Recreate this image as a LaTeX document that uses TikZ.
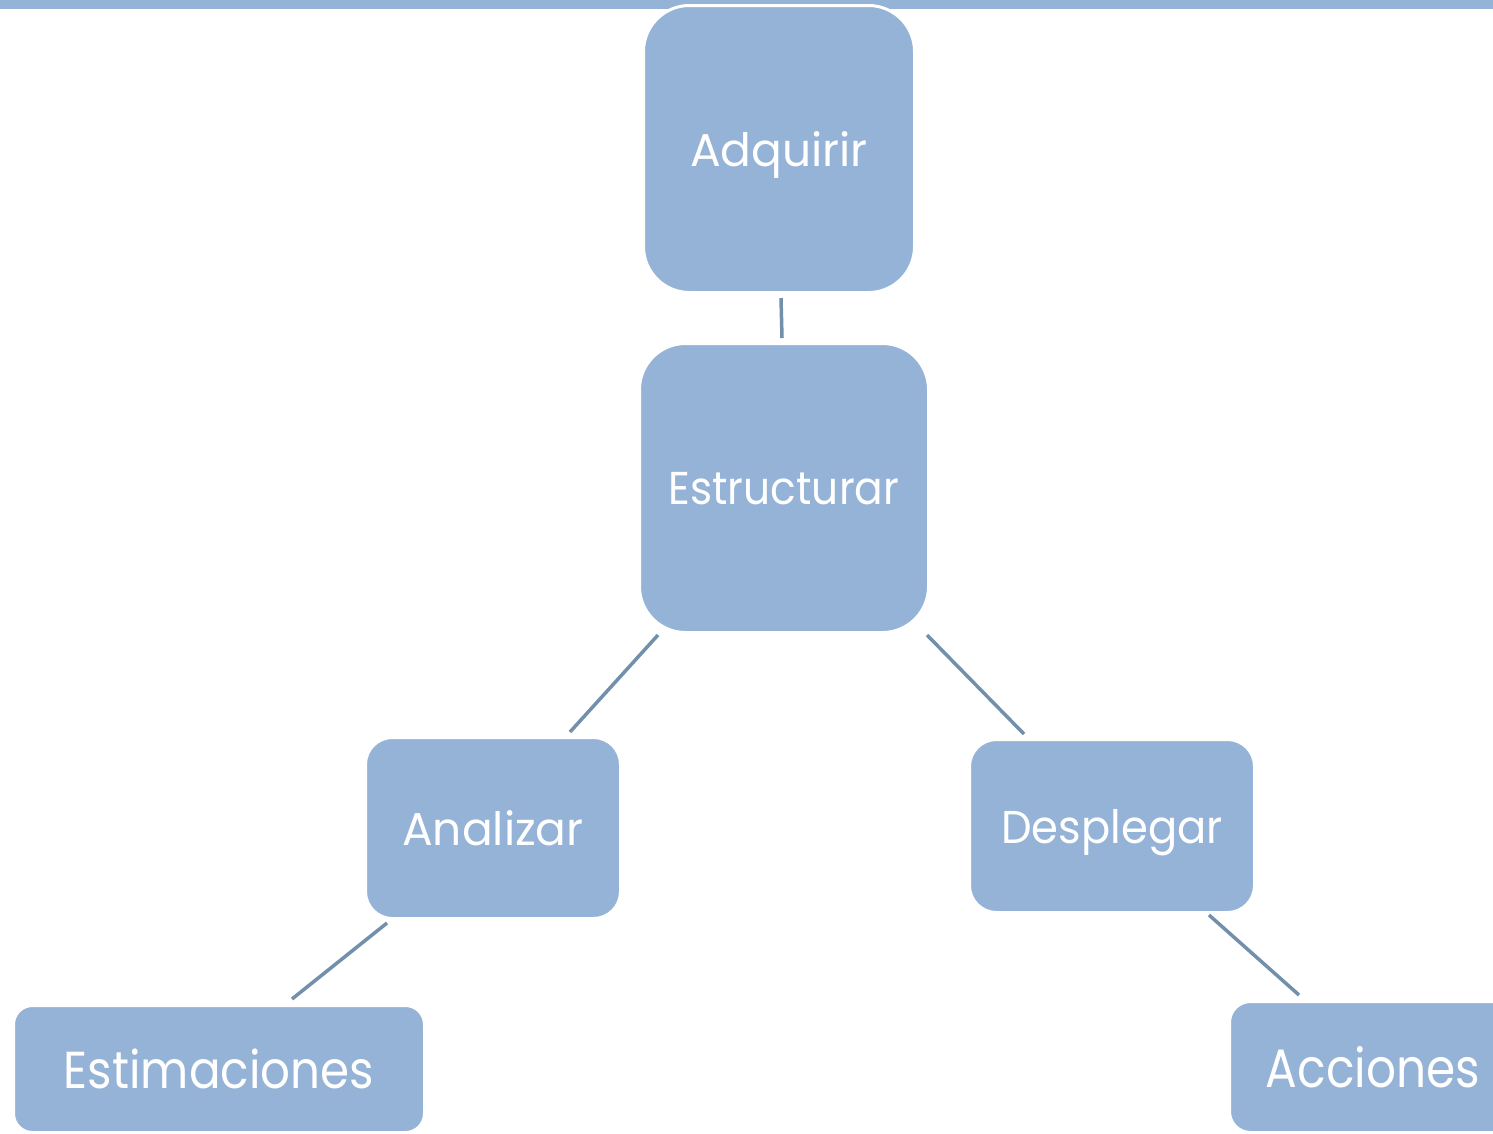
\documentclass[tikz,border=0pt]{standalone}
\usepackage{fontspec}
\setmainfont{Poppins}
\definecolor{boxblue}{RGB}{149,179,215}
\definecolor{linkblue}{RGB}{114,143,172}
\newcommand{\sx}[2]{\scalebox{#1}[1]{#2}}
\begin{document}
\begin{tikzpicture}[x=1pt,y=-1pt,
  box/.style={fill=boxblue,draw=white,line width=3pt,text=white,inner sep=0pt,align=center,text depth=0pt},
  link/.style={draw=linkblue,line width=3.5pt}]
\useasboundingbox (0,0) rectangle (1493,1133);
\fill[boxblue] (0,0) rectangle (1493,8.5);
\node[box,minimum width=271pt,minimum height=287pt,rounded corners=46pt,font=\fontsize{46}{50}\selectfont] (adq) at (779,149) {\sx{0.99}{Adquirir}};
\node[box,minimum width=289pt,minimum height=289pt,rounded corners=46pt,font=\fontsize{46}{50}\selectfont] (est) at (784,488) {\sx{0.92}{Estructurar}};
\node[box,minimum width=255pt,minimum height=181pt,rounded corners=27pt,font=\fontsize{46}{50}\selectfont] (ana) at (493,828) {\sx{0.99}{Analizar}};
\node[box,minimum width=285pt,minimum height=173pt,rounded corners=27pt,font=\fontsize{46}{50}\selectfont] (des) at (1112,826) {\sx{0.94}{Desplegar}};
\node[box,minimum width=411pt,minimum height=127pt,rounded corners=19pt,font=\fontsize{52}{56}\selectfont] (esti) at (219,1069) {\sx{0.9}{Estimaciones}};
\node[box,minimum width=287pt,minimum height=131pt,rounded corners=21pt,font=\fontsize{54}{58}\selectfont] (acc) at (1373,1067) {\sx{0.87}{Acciones}};
\draw[link] ([xshift=2pt,yshift=-4pt]adq.south) -- ([xshift=-2pt,yshift=4pt]est.north);
\draw[link] ([xshift=20pt,yshift=-1pt]est.south west) -- ([xshift=206pt,yshift=4pt]ana.north west);
\draw[link] ([xshift=-3pt,yshift=-1pt]est.south east) -- ([xshift=56pt,yshift=4pt]des.north west);
\draw[link] ([xshift=23pt,yshift=-3pt]ana.south west) -- ([xshift=280pt,yshift=5pt]esti.north west);
\draw[link] ([xshift=-47pt,yshift=-1pt]des.south east) -- ([xshift=71pt,yshift=5pt]acc.north west);
\end{tikzpicture}
\end{document}
